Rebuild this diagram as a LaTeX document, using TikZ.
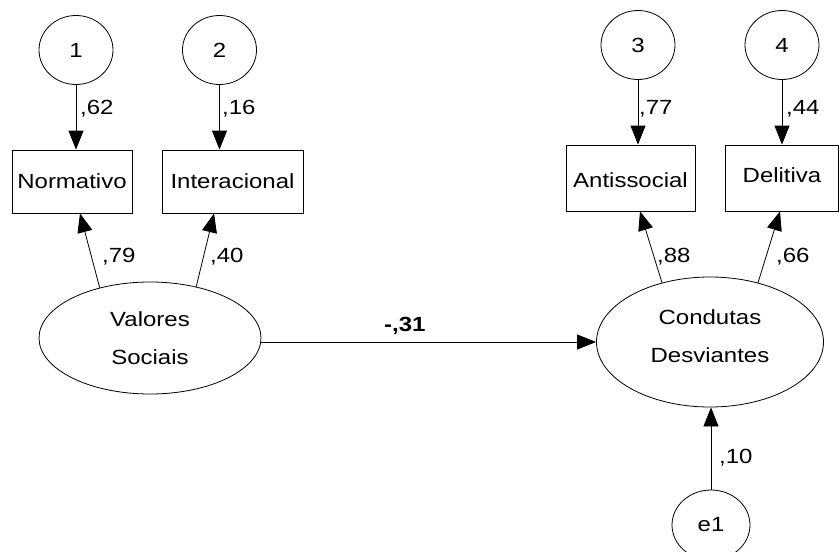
\documentclass[tikz,border=0pt]{standalone}
\usepackage{fontspec}
\setmainfont{Liberation Sans}[FakeStretch=1.17]
\usetikzlibrary{arrows.meta,shapes.geometric,calc}
\begin{document}
\begin{tikzpicture}[x=1pt,y=-1pt,
  every node/.style={font=\fontsize{20.5}{38}\selectfont},
  err/.style={draw,ellipse,inner sep=0pt,minimum width=74pt,minimum height=69pt,line width=0.8pt},
  obs/.style={draw,rectangle,inner sep=0pt,line width=0.8pt},
  lat/.style={draw,ellipse,inner sep=0pt,align=center,line width=0.8pt},
  conn/.style={line width=0.8pt,-{Triangle[length=19pt,width=15pt]}},
  coef/.style={anchor=base west,inner sep=0pt}]
\useasboundingbox (0,0) rectangle (839,552);

% error circles
\node[err] (c1) at (76,50) {1};
\node[err] (c2) at (219.5,50) {2};
\node[err] (c3) at (638,45) {3};
\node[err] (c4) at (782,45) {4};

% observed variables
\node[obs,minimum width=120pt,minimum height=63pt] (b1) at (72,181.5) {Normativo};
\node[obs,minimum width=141pt,minimum height=63pt] (b2) at (232.5,181.5) {Interacional};
\node[obs,minimum width=129pt,minimum height=66pt,text height=18.7pt] (b3) at (630.5,178) {Antissocial};
\node[obs,minimum width=113pt,minimum height=66pt,text depth=6pt] (b4) at (782,178) {Delitiva};

% latent variables
\node[lat,minimum width=222pt,minimum height=112pt] (v) at (150,338) {Valores\\Sociais};
\node[lat,minimum width=227pt,minimum height=130pt,text depth=12pt] (d) at (710,342) {Condutas\\Desviantes};
\node[err,minimum width=78pt,minimum height=70pt] (e) at (711,525) {e1};

% connectors
\draw[conn] (c1.south) -- (c1.south |- b1.north);
\draw[conn] (c2.south) -- (c2.south |- b2.north);
\draw[conn] (c3.south) -- (c3.south |- b3.north);
\draw[conn] (c4.south) -- (c4.south |- b4.north);
\draw[conn] (v.135) -- ($(b1.south)+(8,0)$);
\draw[conn] (v.48) -- ($(b2.south)+(-18.5,0)$);
\draw[conn] (d.129) -- ($(b3.south)+(9.5,0)$);
\draw[conn] (d.51) -- ($(b4.south)+(-2,0)$);
\draw[conn] (v.east |- d.west) -- (d.west);
\draw[conn] (e.north) -- (e.north |- d.south);

% coefficients
\node[coef] (l1) at (80,114) {,62};
\node[coef] (l2) at (222,114) {,16};
\node[coef] (l3) at (639,114) {,77};
\node[coef] (l4) at (786,114) {,44};
\node[coef] (l5) at (102,262) {,79};
\node[coef] (l6) at (210,262) {,40};
\node[coef] (l7) at (657,262) {,88};
\node[coef] (l8) at (776,262) {,66};
\node[coef] (l9) at (719,463) {,10};
\node[coef,font=\fontsize{20.5}{24}\selectfont\bfseries] (l10) at (384,331) {-,31};
\end{tikzpicture}
\end{document}
